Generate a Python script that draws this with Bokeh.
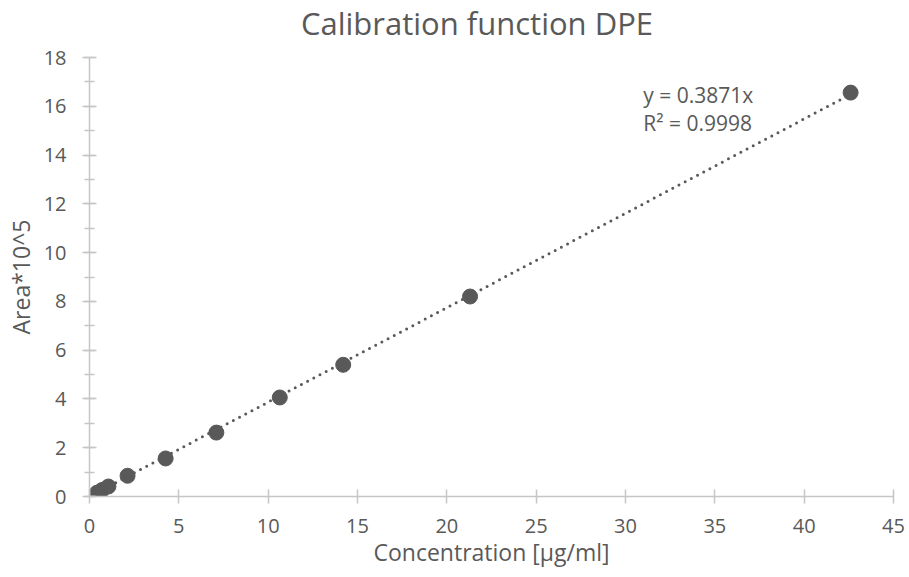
from bokeh.plotting import figure
from bokeh.layouts import column
from bokeh.models import Range1d, Label, SingleIntervalTicker, ColumnDataSource
from bokeh.embed import file_html
from bokeh.resources import INLINE

# Data
concentration = [0.43, 0.71, 1.06, 2.13, 4.26, 7.10, 10.65, 14.20, 21.30, 42.60]
area = [0.16, 0.27, 0.41, 0.85, 1.56, 2.62, 4.06, 5.40, 8.20, 16.56]
slope = 0.3871
r2 = 0.9998
x_ticks = [0, 5, 10, 15, 20, 25, 30, 35, 40, 45]
title_text = "Calibration function DPE"
eq_text = "y = 0.3871x"
r2_text = "R² = 0.9998"

GRAY = "#595959"
AXIS = "#C6C6C6"
FONT = "Open Sans"
W = 907
H = 575
TITLE_H = 44
FRAME_L, FRAME_R, FRAME_T, FRAME_B = 89, 893, 57, 496

# ---- title strip (its frame aligns with the chart frame; coordinates = page pixels) ----
pt = figure(width=W, height=TITLE_H, output_backend="svg", toolbar_location=None,
            x_range=Range1d(FRAME_L, FRAME_R), y_range=Range1d(0, TITLE_H),
            x_axis_type=None, y_axis_type=None, min_border=0, title=None)
pt.outline_line_color = None
pt.xgrid.grid_line_color = None
pt.ygrid.grid_line_color = None
pt.add_layout(Label(x=476.5, y=TITLE_H - 22, text=title_text, text_font=FONT,
                    text_font_size="31px", text_color=GRAY, text_baseline="middle",
                    text_align="center"))

# ---- main chart ----
p = figure(width=W, height=H - TITLE_H, output_backend="svg", toolbar_location=None,
           x_range=Range1d(0, 45), y_range=Range1d(0, 18), title=None,
           min_border_left=FRAME_L, min_border_right=W - FRAME_R,
           min_border_top=FRAME_T - TITLE_H, min_border_bottom=H - FRAME_B)
p.outline_line_color = None
p.xgrid.grid_line_color = None
p.ygrid.grid_line_color = None

# trendline through origin
tx = [min(concentration), max(concentration)]
ty = [slope * v for v in tx]
p.line(tx, ty, line_color=GRAY, line_width=3, line_dash="0 7", line_cap="round")

src = ColumnDataSource(dict(x=concentration, y=area))
p.scatter("x", "y", source=src, size=15, fill_color=GRAY, line_color=GRAY)

for ax in (p.xaxis[0], p.yaxis[0]):
    ax.axis_line_color = AXIS
    ax.axis_line_width = 1.5
    ax.major_tick_line_color = AXIS
    ax.major_tick_line_width = 1.5
    ax.minor_tick_line_color = AXIS
    ax.minor_tick_line_width = 1.5
    ax.major_tick_in = 7
    ax.major_tick_out = 7
    ax.minor_tick_in = 5
    ax.minor_tick_out = 5
    ax.major_label_text_font = FONT
    ax.major_label_text_font_size = "20px"
    ax.major_label_text_color = GRAY
    ax.axis_label_text_font = FONT
    ax.axis_label_text_font_size = "23px"
    ax.axis_label_text_font_style = "normal"
    ax.axis_label_text_color = GRAY

p.xaxis.ticker = x_ticks
p.yaxis.ticker = SingleIntervalTicker(interval=2, num_minor_ticks=2)
p.xaxis.minor_tick_line_color = None
p.xaxis.major_label_standoff = 15
p.yaxis.major_label_standoff = 16
p.xaxis.axis_label = "Concentration [µg/ml]"
p.yaxis.axis_label = "Area*10^5"
p.xaxis.axis_label_standoff = 0
p.yaxis.axis_label_standoff = 4

p.add_layout(Label(x=31.0, y=16.48, text=eq_text, text_font=FONT,
                   text_font_size="21px", text_color=GRAY, text_baseline="alphabetic"))
p.add_layout(Label(x=31.0, y=15.31, text=r2_text, text_font=FONT,
                   text_font_size="21px", text_color=GRAY, text_baseline="alphabetic"))

layout = column(pt, p, spacing=0)
open("out.html", "w").write(file_html(layout, INLINE))
